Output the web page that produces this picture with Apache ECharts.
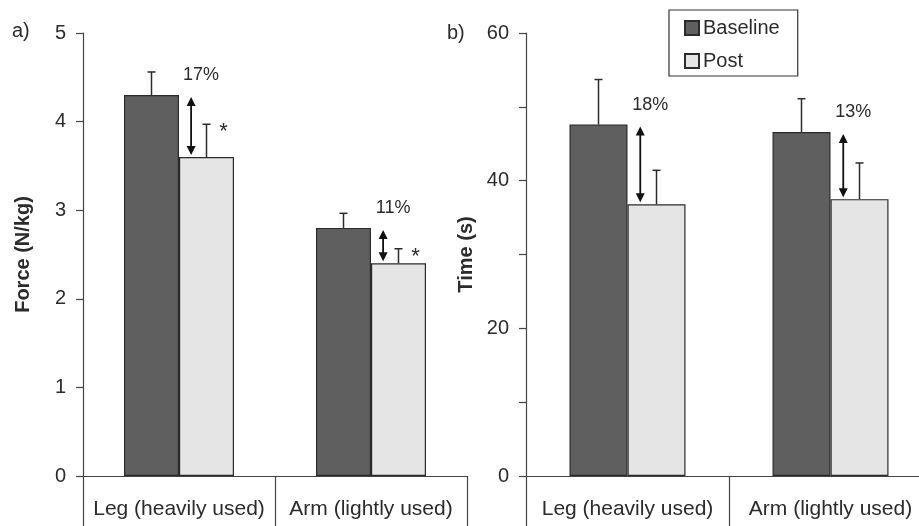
<!DOCTYPE html>
<html>
<head>
<meta charset="utf-8">
<script src="https://cdn.jsdelivr.net/npm/echarts@6/dist/echarts.min.js"></script>
<style>
  html, body { margin: 0; padding: 0; background: #fff; }
  #chart { width: 919px; height: 526px; }
</style>
</head>
<body>
<div id="chart"></div>
<script>
const categories = ['Leg (heavily used)', 'Arm (lightly used)'];

// panel a) force
const forceBaseline = [4.3, 2.8];
const forcePost = [3.6, 2.4];
const forceBaselineErr = [0.26, 0.165];
const forcePostErr = [0.37, 0.165];
const forceChange = ['17%', '11%'];
const forceSig = ['*', '*'];
const forceTicks = [0, 1, 2, 3, 4, 5];

// panel b) time
const timeBaseline = [47.6, 46.6];
const timePost = [36.8, 37.5];
const timeBaselineErr = [6.1, 4.5];
const timePostErr = [4.6, 4.9];
const timeChange = ['18%', '13%'];
const timeSig = ['', ''];
const timeTicks = [0, 20, 40, 60];

const FONT = 'Liberation Sans, Arial, sans-serif';
const INK = '#2b2b2b';
const BW = [55, 58];

const chart = echarts.init(document.getElementById('chart'));

function errorSeries(panel, baseline, baseErr, post, postErr, sig) {
  const data = [];
  baseline.forEach((v, i) => data.push([i, v, baseErr[i], -1, 0]));
  post.forEach((v, i) => data.push([i, v, postErr[i], 1, sig[i] ? 1 : 0]));
  return {
    type: 'custom',
    xAxisIndex: panel, yAxisIndex: panel,
    z: 5, silent: true,
    data: data,
    renderItem(params, api) {
      const base = api.coord([api.value(0), api.value(1)]);
      const top = api.coord([api.value(0), api.value(1) + api.value(2)]);
      const x = base[0] + api.value(3) * BW[panel] / 2;
      const st = { stroke: INK, lineWidth: 1.5 };
      const kids = [
        { type: 'line', shape: { x1: x, y1: base[1], x2: x, y2: top[1] }, style: st },
        { type: 'line', shape: { x1: x - 4, y1: top[1], x2: x + 4, y2: top[1] }, style: st }
      ];
      if (api.value(4)) {
        kids.push({ type: 'text', style: { text: '*', x: x + 17, y: top[1] + 8, align: 'center', verticalAlign: 'middle', font: '22px ' + FONT, fill: INK } });
      }
      return { type: 'group', children: kids };
    }
  };
}

function arrowSeries(panel, baseline, post, change) {
  return {
    type: 'custom',
    xAxisIndex: panel, yAxisIndex: panel,
    z: 6, silent: true,
    data: baseline.map((v, i) => [i, v, post[i]]),
    renderItem(params, api) {
      const p1 = api.coord([api.value(0), api.value(1)]);
      const p2 = api.coord([api.value(0), api.value(2)]);
      const x = p1[0] + 0.22 * BW[panel];
      const y1 = p1[1] + 2, y2 = p2[1] - 2;
      const h = 9, w = 4.5;
      return {
        type: 'group',
        children: [
          { type: 'line', shape: { x1: x, y1: y1 + h - 1, x2: x, y2: y2 - h + 1 }, style: { stroke: '#111', lineWidth: 1.8 } },
          { type: 'polygon', shape: { points: [[x, y1], [x - w, y1 + h], [x + w, y1 + h]] }, style: { fill: '#111' } },
          { type: 'polygon', shape: { points: [[x, y2], [x - w, y2 - h], [x + w, y2 - h]] }, style: { fill: '#111' } },
          { type: 'text', style: { text: change[params.dataIndex], x: x + 10, y: y1 - 22, align: 'center', verticalAlign: 'middle', font: '18px ' + FONT, fill: INK } }
        ]
      };
    }
  };
}

function barSeries(panel, name, values, color) {
  return {
    type: 'bar', name: name,
    xAxisIndex: panel, yAxisIndex: panel,
    data: values,
    barWidth: BW[panel], barGap: '0%',
    itemStyle: { color: color, borderColor: INK, borderWidth: 1.2 },
    emphasis: { disabled: true }
  };
}

function catAxis(panel) {
  return {
    type: 'category', gridIndex: panel, data: categories,
    boundaryGap: true,
    axisLine: { lineStyle: { color: '#444', width: 1.2 } },
    axisTick: { show: true, inside: false, length: 52, alignWithLabel: false, interval: 0, lineStyle: { color: '#444', width: 1.2 } },
    axisLabel: { color: INK, fontSize: 21, fontFamily: FONT, margin: 23, interval: 0, hideOverlap: false }
  };
}

function valAxis(panel, ticks, interval, name) {
  return {
    type: 'value', gridIndex: panel,
    min: ticks[0], max: ticks[ticks.length - 1], interval: interval,
    splitLine: { show: false },
    axisLine: { show: true, lineStyle: { color: '#444', width: 1.2 } },
    axisTick: { show: true, length: 7, lineStyle: { color: '#444', width: 1.2 } },
    axisLabel: {
      color: INK, fontSize: 20, fontFamily: FONT, margin: 17,
      formatter: v => (ticks.indexOf(v) >= 0 ? String(v) : '')
    },
    name: name, nameLocation: 'middle', nameRotate: 90, nameGap: 50,
    nameTextStyle: { color: INK, fontSize: 20, fontWeight: 'bold', fontFamily: FONT }
  };
}

chart.setOption({
  backgroundColor: '#fff',
  animation: false,
  grid: [
    { left: 83, top: 33, width: 384, height: 443, outerBoundsMode: 'none' },
    { left: 526, top: 33, width: 406, height: 443, outerBoundsMode: 'none' }
  ],
  legend: {
    data: ['Baseline', 'Post'],
    orient: 'vertical',
    left: 669, top: 10,
    padding: [8, 18, 5, 15],
    itemGap: 13,
    itemWidth: 14, itemHeight: 14,
    icon: 'rect',
    borderColor: '#333', borderWidth: 1.2,
    textStyle: { color: INK, fontSize: 20, fontFamily: FONT, padding: [0, 0, 0, -1] },
    selectedMode: false
  },
  xAxis: [catAxis(0), catAxis(1)],
  yAxis: [
    valAxis(0, forceTicks, 1, 'Force (N/kg)'),
    valAxis(1, timeTicks, 10, 'Time (s)')
  ],
  graphic: [
    { type: 'text', left: 12, top: 21, style: { text: 'a)', font: '20px ' + FONT, fill: INK } },
    { type: 'text', left: 447, top: 23, style: { text: 'b)', font: '20px ' + FONT, fill: INK } }
  ],
  series: [
    barSeries(0, 'Baseline', forceBaseline, '#5f5f5f'),
    barSeries(0, 'Post', forcePost, '#e5e5e5'),
    errorSeries(0, forceBaseline, forceBaselineErr, forcePost, forcePostErr, forceSig),
    arrowSeries(0, forceBaseline, forcePost, forceChange),
    barSeries(1, 'Baseline', timeBaseline, '#5f5f5f'),
    barSeries(1, 'Post', timePost, '#e5e5e5'),
    errorSeries(1, timeBaseline, timeBaselineErr, timePost, timePostErr, timeSig),
    arrowSeries(1, timeBaseline, timePost, timeChange)
  ]
});
</script>
</body>
</html>
